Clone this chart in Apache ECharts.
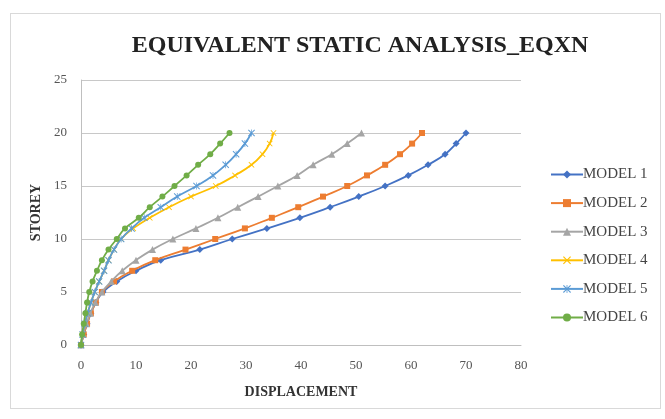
<!DOCTYPE html>
<html>
<head>
<meta charset="utf-8">
<script src="https://cdn.jsdelivr.net/npm/echarts@6/dist/echarts.min.js"></script>
<style>
html,body{margin:0;padding:0;background:#fff;}
#frame{position:absolute;left:10px;top:13px;width:651px;height:396px;border:1px solid #d9d9d9;box-sizing:border-box;}
#chart{position:absolute;left:0;top:0;width:665px;height:419px;}
</style>
</head>
<body>
<div id="frame"></div>
<div id="chart"></div>
<script>
var storeys = [0,1,2,3,4,5,6,7,8,9,10,11,12,13,14,15,16,17,18,19,20];
var seriesNames = ['MODEL 1','MODEL 2','MODEL 3','MODEL 4','MODEL 5','MODEL 6'];
var model1 = [0,0.5,1.1,1.8,2.7,4,6.5,10,14.5,21.6,27.5,33.8,39.8,45.3,50.5,55.3,59.5,63.1,66.2,68.2,70];
var model2 = [0,0.5,1.1,1.8,2.7,3.8,6,9.3,13.5,19,24.4,29.8,34.7,39.5,44,48.4,52,55.3,58,60.2,62];
var model3 = [0,0.4,1,1.7,2.6,3.8,5.5,7.5,10,13,16.7,20.9,24.9,28.5,32.2,35.8,39.3,42.2,45.6,48.4,51];
var model4 = [0,0.3,0.7,1.2,1.8,2.5,3.3,4.2,5,6,7.3,9.5,12.5,16,20,24.5,28,31,33,34.3,35];
var model5 = [0,0.3,0.7,1.2,1.8,2.5,3.3,4.2,5,6,7.3,9.2,11.5,14.5,17.5,21,24,26.3,28.2,29.8,31];
var model6 = [0,0.2,0.5,0.8,1.1,1.5,2.1,2.9,3.8,5,6.5,8,10.5,12.5,14.8,17,19.2,21.3,23.5,25.3,27];
var xTicks = [0,10,20,30,40,50,60,70,80];
var yTicks = [0,5,10,15,20,25];

var allModels = [model1, model2, model3, model4, model5, model6];
var colors = ['#4472C4','#ED7D31','#A5A5A5','#FFC000','#5B9BD5','#70AD47'];
var symbols = ['diamond','rect','triangle',
  'path://M1,0L5,4L9,0L10,1L6,5L10,9L9,10L5,6L1,10L0,9L4,5L0,1Z',
  'path://M1,0L4.5,3.5L4.5,0L5.5,0L5.5,3.5L9,0L10,1L6,5L10,9L9,10L5.5,6.5L5.5,10L4.5,10L4.5,6.5L1,10L0,9L4,5L0,1Z',
  'circle'];
var sizes = [7,6,7,6,7,6];
var font = '"Liberation Serif","Times New Roman",serif';

var series = allModels.map(function(vals, i){
  return {
    name: seriesNames[i],
    type: 'line',
    smooth: true,
    data: vals.map(function(v, k){ return [v, storeys[k]]; }),
    symbol: symbols[i],
    symbolSize: sizes[i],
    showSymbol: true,
    lineStyle: {color: colors[i], width: 1.8},
    itemStyle: {color: colors[i]},
    z: 2 + i
  };
});

var chart = echarts.init(document.getElementById('chart'));
chart.setOption({
  animation: false,
  backgroundColor: 'transparent',
  color: colors,
  title: {
    text: 'EQUIVALENT STATIC ANALYSIS_EQXN',
    left: 355, top: 29, textAlign: 'center',
    textStyle: {fontFamily: font, fontWeight: 'bold', fontSize: 24, color: '#222'}
  },
  legend: {
    orient: 'vertical',
    left: 545, top: 162,
    itemWidth: 32, itemHeight: 10, itemGap: 13.6,
    data: seriesNames,
    textStyle: {fontFamily: font, fontSize: 15, color: '#444', padding: [0,0,0,-5]}
  },
  grid: {left: 81, right: 144, top: 80, bottom: 74},
  xAxis: {
    type: 'value', min: xTicks[0], max: xTicks[xTicks.length-1], interval: 10,
    name: 'DISPLACEMENT', nameLocation: 'middle', nameGap: 40,
    nameTextStyle: {fontFamily: font, fontWeight: 'bold', fontSize: 14, color: '#333'},
    axisLine: {lineStyle: {color: '#bfbfbf'}},
    axisTick: {show: false},
    splitLine: {show: false},
    axisLabel: {fontFamily: font, fontSize: 13, color: '#555', margin: 14}
  },
  yAxis: {
    type: 'value', min: yTicks[0], max: yTicks[yTicks.length-1], interval: 5,
    name: 'STOREY', nameLocation: 'middle', nameGap: 32, nameRotate: 90,
    nameTextStyle: {fontFamily: font, fontWeight: 'bold', fontSize: 14, color: '#333'},
    axisLine: {show: true, lineStyle: {color: '#bfbfbf'}},
    axisTick: {show: false},
    splitLine: {lineStyle: {color: '#c8c8c8', width: 1.2}},
    axisLabel: {fontFamily: font, fontSize: 13, color: '#555', margin: 14}
  },
  series: series
});
</script>
</body>
</html>
